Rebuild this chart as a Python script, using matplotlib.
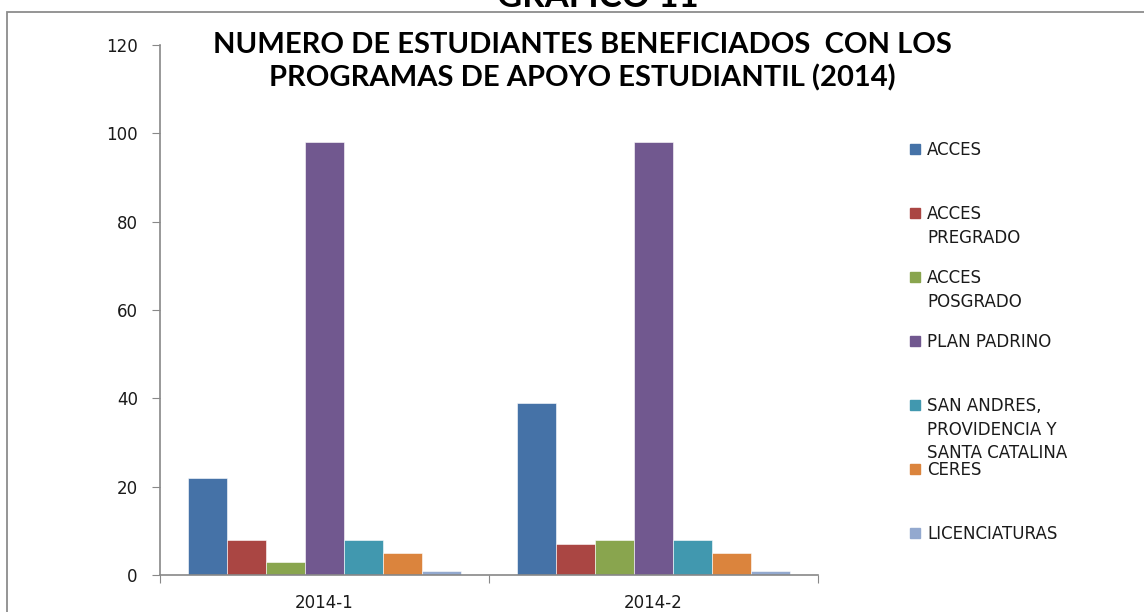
import matplotlib.pyplot as plt
import numpy as np
from matplotlib.patches import Rectangle

# datos del grafico
periodos = ["2014-1", "2014-2"]
programas = ["ACCES", "ACCES\nPREGRADO", "ACCES\nPOSGRADO", "PLAN PADRINO",
             "SAN ANDRES,\nPROVIDENCIA Y\nSANTA CATALINA", "CERES", "LICENCIATURAS"]
acces = [22, 39]
acces_pregrado = [8, 7]
acces_posgrado = [3, 8]
plan_padrino = [98, 98]
san_andres = [8, 8]
ceres = [5, 5]
licenciaturas = [1, 1]
series = [acces, acces_pregrado, acces_posgrado, plan_padrino, san_andres, ceres, licenciaturas]
colores = ["#4572A7", "#AA4643", "#89A54E", "#71588F", "#4198AF", "#DB843D", "#93A9CF"]

W, H = 1144, 612
fig = plt.figure(figsize=(W / 100, H / 100), dpi=100)
ax = fig.add_axes([160 / W, 1 - 575 / H, 658 / W, 530 / H])

# barras agrupadas
n = len(series)
ancho = 0.83 / n
x = np.arange(len(periodos))
for i, (vals, c) in enumerate(zip(series, colores)):
    ax.bar(x - 0.415 + ancho * (i + 0.5), vals, width=ancho, color=c, edgecolor="white", linewidth=0.4)

ax.set_xlim(-0.5, len(periodos) - 0.5)
ax.set_ylim(0, 120)
ax.set_yticks(range(0, 121, 20))
ax.set_xticks(np.arange(-0.5, len(periodos), 1.0))
ax.set_xticklabels([])
ax.set_xticks(x, minor=True)
ax.set_xticklabels(periodos, minor=True)
ax.tick_params(axis="x", which="minor", length=0, pad=14, labelsize=12, labelcolor="#1a1a1a")
ax.tick_params(axis="x", which="major", length=6, color="#888888")
ax.tick_params(axis="y", length=6, color="#888888", labelsize=12, pad=10, labelcolor="#1a1a1a")
for s in ["top", "right"]:
    ax.spines[s].set_visible(False)
for s in ["left", "bottom"]:
    ax.spines[s].set_color("#888888")
    ax.spines[s].set_linewidth(1.2)

# titulo
fig.text(582 / W, 1 - 62 / H, "NUMERO DE ESTUDIANTES BENEFICIADOS  CON LOS\nPROGRAMAS DE APOYO ESTUDIANTIL (2014)",
         ha="center", va="center", fontsize=21, fontweight="bold", family="Lato", linespacing=1.3)

# encabezado cortado arriba
fig.text(598 / W, 1 - 7 / H, "GRAFICO 11", ha="center", va="baseline",
         fontsize=25, fontweight="bold", family="Lato")

# marco del grafico
fig.patches.append(Rectangle((7 / W, -0.1), 1.2, 1 - 12 / H + 0.1, transform=fig.transFigure,
                             fill=False, edgecolor="#8c8c8c", linewidth=1.3))

# leyenda manual
for i, (nombre, c) in enumerate(zip(programas, colores)):
    yp = 149 + 64 * i
    fig.patches.append(Rectangle((910 / W, 1 - (yp + 5) / H), 10 / W, 10 / H,
                                 transform=fig.transFigure, color=c))
    fig.text(927 / W, 1 - (yp - 8) / H, nombre, ha="left", va="top", fontsize=12,
             linespacing=1.4, color="#1a1a1a")

plt.savefig("out.png", dpi=100)
